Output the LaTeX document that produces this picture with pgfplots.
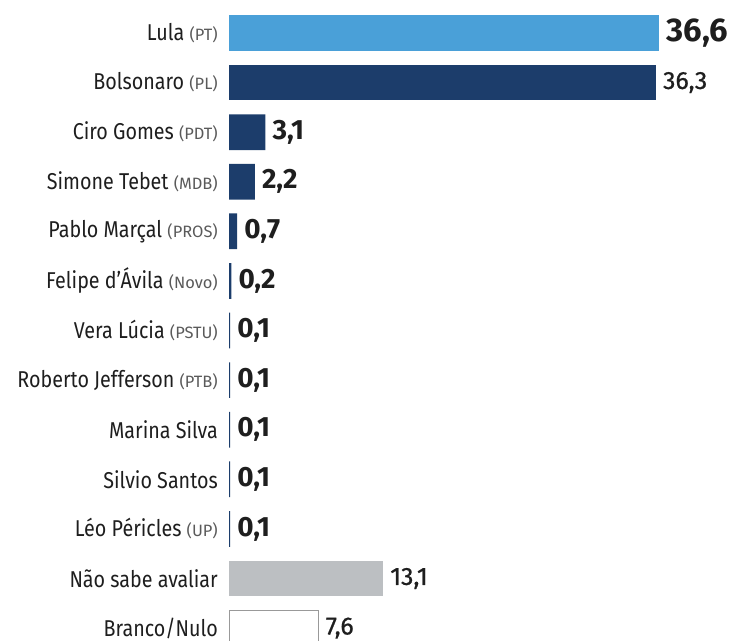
\documentclass[border=0pt]{standalone}
\usepackage{fontspec}
\setmainfont{Fira Sans}[FakeStretch=0.86]
\newfontfamily\valfont{Fira Sans}
\newfontfamily\medfont{Fira Sans}[FakeBold=0.8]
\usepackage{pgfplots}
\pgfplotsset{compat=1.18}
\definecolor{lightblue}{HTML}{4AA0D8}
\definecolor{navy}{HTML}{1C3D6B}
\definecolor{graybar}{HTML}{BCBFC2}
\definecolor{txt}{HTML}{1E1E1E}
\definecolor{party}{HTML}{5A5A5A}
\newcommand{\pty}[1]{{\valfont\fontsize{16.5}{16.5}\selectfont\color{party}(#1)}}
\begin{document}
\begin{tikzpicture}[x=1bp,y=1bp]
\path[use as bounding box] (0,0) rectangle (729,641);
\begin{axis}[
  at={(229bp,0bp)}, anchor=south west,
  scale only axis, width=500bp, height=641bp,
  xmin=0, xmax=42.52, ymin=-0.665, ymax=12.26,
  y dir=reverse, clip=false,
  xbar, bar shift=0pt, bar width=0.72,
  axis line style={draw=none}, major tick length=0pt,
  xtick=\empty,
  ytick={0,...,12},
  yticklabels={
    {Lula \pty{PT}},
    {Bolsonaro \pty{PL}},
    {Ciro Gomes \pty{PDT}},
    {Simone Tebet \pty{MDB}},
    {Pablo Marçal \pty{PROS}},
    {Felipe d'Ávila \pty{Novo}},
    {Vera Lúcia \pty{PSTU}},
    {Roberto Jefferson \pty{PTB}},
    {Marina Silva},
    {Silvio Santos},
    {Léo Péricles \pty{UP}},
    {Não sabe avaliar},
    {Branco/Nulo}},
  yticklabel style={font=\fontsize{23}{23}\selectfont, text=txt, anchor=east, inner xsep=0pt, xshift=-11bp},
  nodes near coords,
  point meta=explicit symbolic,
  every node near coord/.append style={anchor=west, inner xsep=0pt, xshift=7bp, text=txt},
]
\addplot[fill=lightblue, draw=none, nodes near coords style={font=\valfont\bfseries\fontsize{33}{33}\selectfont}]
  coordinates {(36.6,0) [36,6]};
\addplot[fill=navy, draw=none, nodes near coords style={font=\medfont\fontsize{25}{25}\selectfont}]
  coordinates {(36.3,1) [36,3]};
\addplot[fill=navy, draw=none, nodes near coords style={font=\valfont\bfseries\fontsize{28}{28}\selectfont}]
  coordinates {
    (3.1,2) [3,1]
    (2.2,3) [2,2]
    (0.7,4) [0,7]
    (0.2,5) [0,2]
    (0.1,6) [0,1]
    (0.1,7) [0,1]
    (0.1,8) [0,1]
    (0.1,9) [0,1]
    (0.1,10) [0,1]
  };
\addplot[fill=graybar, draw=none, nodes near coords style={font=\medfont\fontsize{25}{25}\selectfont}]
  coordinates {(13.1,11) [13,1]};
\addplot[fill=white, draw=gray!80, line width=1bp, nodes near coords style={font=\medfont\fontsize{25}{25}\selectfont}]
  coordinates {(7.6,12) [7,6]};
\end{axis}
\end{tikzpicture}
\end{document}
